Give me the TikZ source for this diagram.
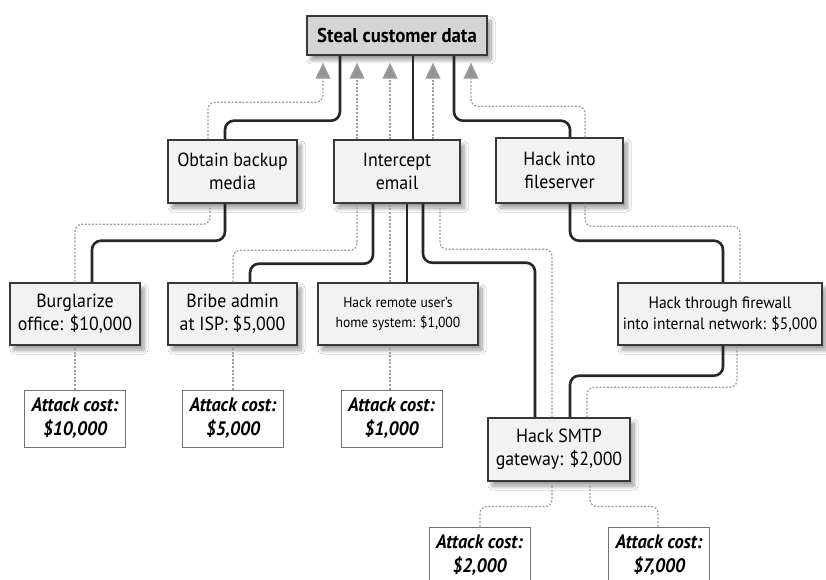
\documentclass[tikz,border=0pt]{standalone}
\usepackage{fontspec}
\setmainfont{PT Sans}[FakeStretch=0.94]
\usetikzlibrary{arrows.meta,shadows.blur}

\begin{document}
\begin{tikzpicture}[x=1pt,y=-1pt,
  base/.style={draw=black!78, line width=1.4pt, align=center, inner sep=0pt,
    blur shadow={shadow xshift=4pt, shadow yshift=-5pt, shadow blur radius=4pt,
      shadow blur steps=8, shadow opacity=40}},
  goal/.style={base, fill=black!17, minimum width=180pt, minimum height=39pt,
    font=\fontsize{20}{24}\selectfont\bfseries},
  stepbox/.style={base, fill=black!5, minimum height=63pt,
    font=\fontsize{19}{23}\selectfont},
  smallbox/.style={stepbox, font=\fontsize{14.5}{20}\selectfont},
  widebox/.style={stepbox, font=\fontsize{16.5}{21}\selectfont},
  costbox/.style={draw=black!55, line width=1pt, fill=white, align=center,
    inner sep=0pt, minimum width=101pt, minimum height=57pt,
    font=\fontsize{19.5}{24}\selectfont\bfseries\itshape},
  solidlink/.style={draw=black!85, line width=2.6pt, rounded corners=9pt},
  costlink/.style={draw=black!38, line width=1.2pt, dash pattern=on 2pt off 1.6pt,
    rounded corners=7pt},
  costarrow/.style={costlink, -{Triangle[width=15pt,length=16pt,fill=black!42]}, shorten >=7pt}]

\useasboundingbox (0,0) rectangle (826,580);
\fill[white] (0,0) rectangle (826,580);

% goal
\node[goal] (steal) at (397,35.5) {Steal customer data};

% second level
\node[stepbox, minimum width=129pt] (obt)  at (232.5,171.5) {Obtain backup\\media};
\node[stepbox, minimum width=126pt] (icpt) at (397,171.5)   {Intercept\\email};
\node[stepbox, minimum width=127pt, minimum height=65pt] (fsrv) at (559.5,170.5) {Hack into\\fileserver};

% third level
\node[stepbox, minimum width=130pt, minimum height=62pt] (burg)  at (75,314)    {Burglarize\\office: \$10,000};
\node[stepbox, minimum width=129pt, minimum height=62pt] (bribe) at (232.5,314) {Bribe admin\\at ISP: \$5,000};
\node[smallbox, minimum width=160pt, minimum height=62pt] (remote) at (398,314) {Hack remote user's\\home system: \$1,000};
\node[widebox, minimum width=204pt, minimum height=62pt] (fw)    at (720,314)   {Hack through firewall\\into internal network: \$5,000};
\node[stepbox, minimum width=142pt] (smtp) at (559,449.5) {Hack SMTP\\gateway: \$2,000};

% attack costs
\node[costbox] (ac10) at (75,418.5)    {Attack cost:\\\$10,000};
\node[costbox] (ac5)  at (233,418.5)   {Attack cost:\\\$5,000};
\node[costbox] (ac1)  at (391.5,418.5) {Attack cost:\\\$1,000};
\node[costbox] (ac2)  at (479.5,555.5) {Attack cost:\\\$2,000};
\node[costbox] (ac7)  at (659,555.5)   {Attack cost:\\\$7,000};

% attack steps (solid)
\draw[solidlink] ([xshift=-57pt]steal.south) -- ++(0,65) -| ([xshift=-7.5pt]obt.north);
\draw[solidlink] ([xshift=16pt]steal.south) -- ([xshift=16pt]icpt.north);
\draw[solidlink] ([xshift=57pt]steal.south) -- ++(0,65) -| ([xshift=10.5pt]fsrv.north);
\draw[solidlink] ([xshift=-7.5pt]obt.south) -- ++(0,37) -| ([xshift=17pt]burg.north);
\draw[solidlink] ([xshift=-24pt]icpt.south) -- ++(0,60) -| ([xshift=17.5pt]bribe.north);
\draw[solidlink] ([xshift=10pt]icpt.south) -- ([xshift=9pt]remote.north);
\draw[solidlink] ([xshift=26pt]icpt.south) -- ++(0,59) -| ([xshift=-24pt]smtp.north);
\draw[solidlink] ([xshift=10.5pt]fsrv.south) -- ++(0,37) -| ([xshift=3pt]fw.north);
\draw[solidlink] ([xshift=3pt]fw.south) -- ++(0,30) -| ([xshift=11pt]smtp.north);

% cost propagation (dotted, upward)
\draw[costarrow] ([xshift=-24.5pt]obt.north) -- ++(0,-37) -| ([xshift=-74pt]steal.south);
\draw[costarrow] ([xshift=-40pt]icpt.north) -- ([xshift=-40pt]steal.south);
\draw[costarrow] ([xshift=-7pt]icpt.north) -- ([xshift=-7pt]steal.south);
\draw[costarrow] ([xshift=36pt]icpt.north) -- ([xshift=36pt]steal.south);
\draw[costarrow] ([xshift=25.5pt]fsrv.north) -- ++(0,-31) -| ([xshift=74pt]steal.south);

\draw[costlink] (burg.north) -- ++(0,-58) -| ([xshift=-22.5pt]obt.south);
\draw[costlink] ([xshift=0.5pt]bribe.north) -- ++(0,-32) -| ([xshift=-40pt]icpt.south);
\draw[costlink] ([xshift=-8pt]remote.north) -- ([xshift=-7pt]icpt.south);
\draw[costlink] ([xshift=-7pt]smtp.north) -- ++(0,-168) -| ([xshift=43pt]icpt.south);
\draw[costlink] ([xshift=20pt]fw.north) -- ++(0,-56) -| ([xshift=25.5pt]fsrv.south);
\draw[costlink] ([xshift=28pt]smtp.north) -- ++(0,-30) -| ([xshift=17pt]fw.south);

\draw[costlink] (ac10.north) -- (burg.south);
\draw[costlink] (ac5.north) -- ([xshift=0.5pt]bribe.south);
\draw[costlink] ([xshift=-1.5pt]ac1.north) -- ([xshift=-8pt]remote.south);
\draw[costlink] ([xshift=0.5pt]ac2.north) -- ++(0,-20) -| ([xshift=-7pt]smtp.south);
\draw[costlink] ([xshift=-1pt]ac7.north) -- ++(0,-20) -| ([xshift=31pt]smtp.south);
\end{tikzpicture}
\end{document}
